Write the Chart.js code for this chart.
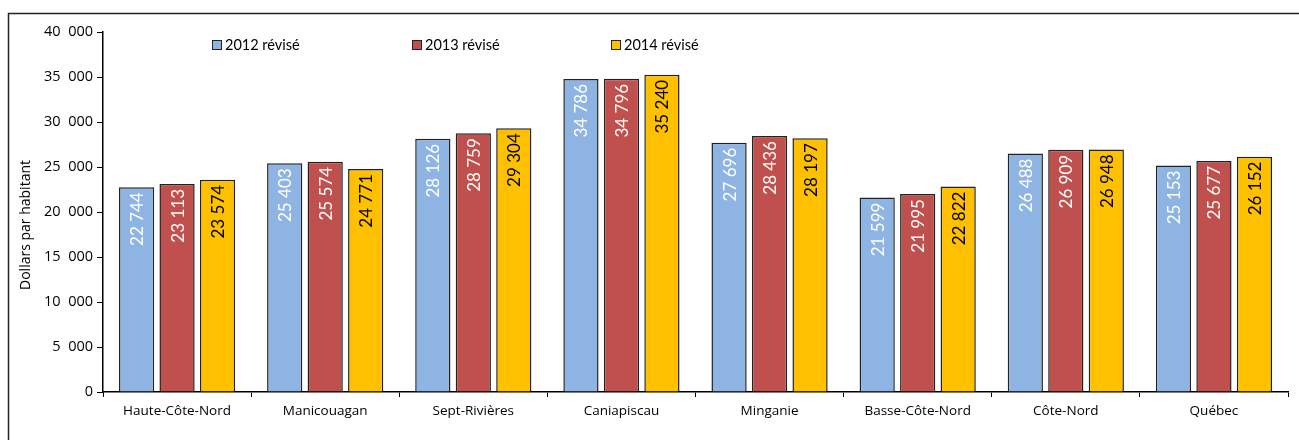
<!DOCTYPE html>
<html><head><meta charset="utf-8">
<script src="https://cdn.jsdelivr.net/npm/chart.js@4"></script>
<style>html,body{margin:0;padding:0;background:#fff}#wrap{width:1299px;height:440px;position:relative}</style>
</head><body><div id="wrap"><canvas id="c" width="1299" height="440"></canvas></div>
<script>
const categories = ["Haute-Côte-Nord","Manicouagan","Sept-Rivières","Caniapiscau","Minganie","Basse-Côte-Nord","Côte-Nord","Québec"];
const seriesNames = ["2012 révisé","2013 révisé","2014 révisé"];
const values2012 = [22744,25403,28126,34786,27696,21599,26488,25153];
const values2013 = [23113,25574,28759,34796,28436,21995,26909,25677];
const values2014 = [23574,24771,29304,35240,28197,22822,26948,26152];
const yTicks = [0,5000,10000,15000,20000,25000,30000,35000,40000];
const yTitle = "Dollars par habitant";

const colors = ["#8EB4E3","#C0504D","#FFC000"];
const labelColors = ["#ffffff","#ffffff","#000000"];

function fmt(v){ return String(v).replace(/\B(?=(\d{3})+(?!\d))/g," "); }
function fmtTick(v){ return v===0 ? "0" : String(v).replace(/\B(?=(\d{3})+(?!\d))/g,"  "); }

const framePlugin = {
  id:"frame",
  beforeDraw(chart){
    const ctx=chart.ctx; ctx.save();
    ctx.strokeStyle="#222"; ctx.lineWidth=1.5;
    ctx.beginPath(); ctx.moveTo(8.5,440); ctx.lineTo(8.5,13.5); ctx.lineTo(1299,13.5); ctx.stroke();
    ctx.restore();
  },
  afterDraw(chart){
    const ctx=chart.ctx; ctx.save();
    ctx.translate(26,225);
    ctx.rotate(-Math.PI/2);
    ctx.font="14px 'Open Sans'"; ctx.fillStyle="#000"; ctx.textAlign="center"; ctx.textBaseline="middle";
    ctx.fillText(yTitle,0,0);
    ctx.restore();
  }
};
const labelPlugin = {
  id:"barLabels",
  afterDatasetsDraw(chart){
    const ctx=chart.ctx;
    chart.data.datasets.forEach((ds,di)=>{
      const meta=chart.getDatasetMeta(di);
      meta.data.forEach((bar,i)=>{
        ctx.save();
        ctx.translate(bar.x, bar.y+5);
        ctx.rotate(-Math.PI/2);
        ctx.font = "17px Lato";
        ctx.fillStyle = labelColors[di];
        ctx.textAlign="right"; ctx.textBaseline="middle";
        ctx.fillText(fmt(ds.data[i]),0,1);
        ctx.restore();
      });
    });
  }
};
const legendPlugin = {
  id:"customLegend",
  afterDraw(chart){
    const ctx=chart.ctx; const xs=[212,412,611]; const y=45;
    chart.data.datasets.forEach((ds,di)=>{
      ctx.save();
      ctx.fillStyle=ds.backgroundColor; ctx.strokeStyle="#222"; ctx.lineWidth=1;
      ctx.fillRect(xs[di],y-5,9,9); ctx.strokeRect(xs[di]+0.5,y-4.5,9,9);
      ctx.fillStyle="#000"; ctx.font="14.5px Lato"; ctx.textBaseline="middle"; ctx.textAlign="left";
      ctx.fillText(ds.label, xs[di]+13, y);
      ctx.restore();
    });
  }
};

new Chart(document.getElementById("c"),{
  type:"bar",
  data:{
    labels:categories,
    datasets:[values2012,values2013,values2014].map((d,i)=>({
      label:seriesNames[i], data:d, backgroundColor:colors[i], borderColor:"#222", borderWidth:1.5,
      categoryPercentage:0.82, barPercentage:0.87
    }))
  },
  options:{
    responsive:false, animation:false,
    layout:{padding:{left:0,right:11,top:32,bottom:0}},
    plugins:{legend:{display:false},tooltip:{enabled:false},title:{display:false}},
    scales:{
      x:{
        grid:{display:true,drawOnChartArea:false,offset:true,tickLength:5,color:"#000",lineWidth:1},
        border:{display:true,color:"#000",width:1.5},
        ticks:{color:"#000",font:{family:"Open Sans",size:13.5},padding:6,maxRotation:0},
        afterFit(s){ s.height=48; }
      },
      y:{
        min:0,max:40000,
        afterBuildTicks(s){ s.ticks=yTicks.map(v=>({value:v})); },
        grid:{display:true,drawOnChartArea:false,tickLength:6,color:"#000",lineWidth:1},
        border:{display:true,color:"#000",width:1.5},
        ticks:{color:"#000",font:{family:"Open Sans",size:14.5},padding:4,callback:v=>fmtTick(v)},
        afterFit(s){ s.width=103; }
      }
    }
  },
  plugins:[framePlugin,labelPlugin,legendPlugin]
});
</script></body></html>
